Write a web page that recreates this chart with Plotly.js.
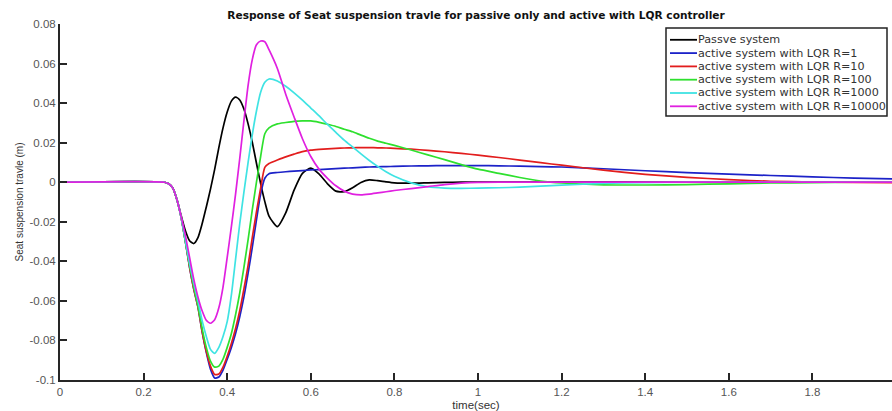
<!DOCTYPE html>
<html>
<head>
<meta charset="utf-8">
<script src="https://cdn.plot.ly/plotly-3.0.1.min.js"></script>
<style>html,body{margin:0;padding:0;background:#fff;}#chart{width:892px;height:411px;}</style>
</head>
<body>
<div id="chart"></div>
<script>
// ---- data ----
const time = [0, 0.25, 0.26, 0.27, 0.28, 0.29, 0.30, 0.31, 0.32, 0.33, 0.34, 0.35, 0.36, 0.37, 0.38, 0.39, 0.40,
  0.41, 0.42, 0.43, 0.44, 0.45, 0.46, 0.47, 0.48, 0.49, 0.50, 0.52, 0.54, 0.56, 0.58, 0.60, 0.62, 0.64,
  0.66, 0.68, 0.70, 0.72, 0.74, 0.76, 0.78, 0.80, 0.84, 0.88, 0.92, 0.96, 1.00, 1.05, 1.10, 1.15, 1.20,
  1.30, 1.40, 1.50, 1.60, 1.70, 1.80, 1.90, 2.00];

const passive = [0, 0, -0.0008, -0.003, -0.009, -0.017, -0.0245, -0.0296, -0.031, -0.028, -0.021, -0.0125, -0.0035, 0.0065, 0.0175, 0.0275, 0.0355,
  0.041, 0.043, 0.0416, 0.037, 0.0295, 0.0202, 0.0096, -0.0007, -0.0098, -0.0171, -0.0225, -0.0155, -0.004, 0.0045, 0.0071, 0.0041, -0.0008,
  -0.0045, -0.0048, -0.0028, -0.0001, 0.0012, 0.0008, 0.0002, -0.0003, -0.0005, -0.0003, -0.0001, 0, 0, 0, 0, 0, 0,
  0, 0, 0, 0, 0, 0, 0, 0];

const lqrR1 = [0, 0, -0.0008, -0.003, -0.009, -0.018, -0.030, -0.043, -0.054, -0.063, -0.0755, -0.086, -0.0945, -0.099, -0.0985, -0.095, -0.0895,
  -0.0835, -0.0765, -0.068, -0.058, -0.046, -0.033, -0.019, -0.006, 0.002, 0.0043, 0.0049, 0.0053, 0.0056, 0.0059, 0.0062, 0.0064, 0.0066,
  0.0069, 0.0071, 0.0073, 0.0075, 0.0077, 0.0078, 0.0079, 0.0080, 0.0082, 0.0083, 0.0084, 0.0084, 0.0084, 0.0083, 0.0081, 0.0079, 0.0077,
  0.0068, 0.0058, 0.0049, 0.0041, 0.0034, 0.0027, 0.0021, 0.0016];

const lqrR10 = [0, 0, -0.0008, -0.003, -0.009, -0.018, -0.030, -0.043, -0.054, -0.063, -0.0755, -0.0855, -0.093, -0.0972, -0.097, -0.0935, -0.088,
  -0.0815, -0.074, -0.065, -0.054, -0.042, -0.028, -0.015, -0.003, 0.0075, 0.0095, 0.0112, 0.0128, 0.0142, 0.0155, 0.0162, 0.0166, 0.0169,
  0.0171, 0.0173, 0.0174, 0.0175, 0.0175, 0.0174, 0.0173, 0.0171, 0.0167, 0.0161, 0.0154, 0.0146, 0.0137, 0.0125, 0.0112, 0.0099, 0.0086,
  0.0061, 0.0040, 0.0025, 0.0013, 0.0005, 0.0001, -0.0001, -0.0002];

const lqrR100 = [0, 0, -0.0008, -0.003, -0.009, -0.018, -0.030, -0.042, -0.053, -0.0625, -0.074, -0.0835, -0.0905, -0.0935, -0.093, -0.0895, -0.0835,
  -0.0765, -0.067, -0.056, -0.043, -0.029, -0.014, 0.000, 0.013, 0.0245, 0.0275, 0.0295, 0.0302, 0.0308, 0.031, 0.031, 0.0303, 0.0293,
  0.0282, 0.0268, 0.0255, 0.0238, 0.0222, 0.0208, 0.0197, 0.0186, 0.0163, 0.0138, 0.0114, 0.0089, 0.0066, 0.0045, 0.0024, 0.0006, -0.0004,
  -0.0013, -0.0014, -0.0012, -0.0008, -0.0004, -0.0002, 0, 0];

const lqrR1000 = [0, 0, -0.0008, -0.003, -0.009, -0.018, -0.0295, -0.041, -0.051, -0.060, -0.070, -0.078, -0.0845, -0.0865, -0.0835, -0.078, -0.0705,
  -0.057, -0.039, -0.021, -0.005, 0.010, 0.024, 0.036, 0.0455, 0.0505, 0.0522, 0.0512, 0.0485, 0.0452, 0.0415, 0.0375, 0.0335, 0.0292,
  0.0252, 0.0213, 0.0178, 0.0143, 0.0110, 0.0080, 0.0053, 0.0030, -0.0003, -0.0023, -0.003, -0.0031, -0.003, -0.0028, -0.0025, -0.002, -0.0015,
  -0.0006, -0.0002, 0, 0, 0, 0, 0, 0];

const lqrR10000 = [0, 0, -0.0008, -0.003, -0.009, -0.0175, -0.027, -0.038, -0.049, -0.058, -0.065, -0.0698, -0.0713, -0.0695, -0.0635, -0.053, -0.038,
  -0.0225, -0.006, 0.012, 0.031, 0.049, 0.062, 0.0695, 0.0714, 0.071, 0.067, 0.0575, 0.0445, 0.033, 0.022, 0.013, 0.0065, 0.002,
  -0.0018, -0.0045, -0.006, -0.0064, -0.006, -0.0054, -0.0048, -0.0042, -0.0032, -0.0022, -0.0012, -0.0005, -0.0001, 0, 0, 0, 0,
  0, 0, 0, 0, 0, 0, 0, 0];

const seriesNames = ["Passve system", "active system with LQR R=1", "active system with LQR R=10",
  "active system with LQR R=100", "active system with LQR R=1000", "active system with LQR R=10000"];
const seriesValues = [passive, lqrR1, lqrR10, lqrR100, lqrR1000, lqrR10000];

const xTickVals = [0, 0.2, 0.4, 0.6, 0.8, 1, 1.2, 1.4, 1.6, 1.8];
const xTickText = ["0", "0.2", "0.4", "0.6", "0.8", "1", "1.2", "1.4", "1.6", "1.8"];
const yTickVals = [-0.1, -0.08, -0.06, -0.04, -0.02, 0, 0.02, 0.04, 0.06, 0.08];
const yTickText = ["-0.1", "-0.08", "-0.06", "-0.04", "-0.02", "0", "0.02", "0.04", "0.06", "0.08"];

// ---- styling ----
const colors = ["#000000", "#1c22c8", "#e21d1d", "#2ee02e", "#3fe3e3", "#e020e0"];
const FONT = "Liberation Sans, Arial, Helvetica, sans-serif";
const WIDEFONT = "DejaVu Sans, Verdana, sans-serif";
const W = 892, H = 411;
const M = {l: 60, r: 0, t: 24, b: 31};
const plotW = W - M.l - M.r, plotH = H - M.t - M.b;
const px2x = p => (p - M.l) / plotW;
const px2y = p => (H - M.b - p) / plotH;

const traces = seriesValues.map((vals, i) => ({
  type: "scatter", mode: "lines", x: time, y: vals, name: seriesNames[i],
  line: {color: colors[i], width: 1.7, shape: "spline", smoothing: 0.6},
  showlegend: false, hoverinfo: "skip"
}));

// manual legend (MATLAB-style compact box)
const legBox = {x0: 666, x1: 887, y0: 28, y1: 116};
const shapes = [{type: "rect", xref: "paper", yref: "paper",
  x0: px2x(legBox.x0), x1: px2x(legBox.x1), y0: px2y(legBox.y1), y1: px2y(legBox.y0),
  line: {color: "#222", width: 1.5}, fillcolor: "#fff", layer: "above"}];
const annotations = [];
seriesNames.forEach((n, i) => {
  const cy = 39.8 + 13.3 * i;
  shapes.push({type: "line", xref: "paper", yref: "paper", x0: px2x(670), x1: px2x(697),
    y0: px2y(cy), y1: px2y(cy), line: {color: colors[i], width: 1.8}, layer: "above"});
  annotations.push({xref: "paper", yref: "paper", x: px2x(696), y: px2y(cy), text: n,
    showarrow: false, xanchor: "left", yanchor: "middle",
    font: {family: WIDEFONT, size: 11.2, color: "#333"}});
});

const axisCommon = {
  showgrid: false, zeroline: false, showline: true, linecolor: "#262626", linewidth: 2,
  ticks: "inside", ticklen: 7, tickwidth: 2, tickcolor: "#262626",
  tickfont: {family: FONT, size: 11.5, color: "#555"}, automargin: false, fixedrange: true
};

const layout = {
  width: W, height: H, margin: M, paper_bgcolor: "#fff", plot_bgcolor: "#fff",
  showlegend: false,
  title: {text: "Response of Seat suspension travle for passive only and active with LQR controller",
    x: 0.5, xref: "paper", xanchor: "center", y: 1 - 15 / H, yref: "container", yanchor: "middle",
    font: {family: WIDEFONT, size: 10.6, color: "#111", weight: "bold"}},
  xaxis: Object.assign({}, axisCommon, {range: [0, plotW / 418], tickvals: xTickVals, ticktext: xTickText,
    title: {text: "time(sec)", standoff: 6, font: {family: FONT, size: 11.5, color: "#333"}}}),
  yaxis: Object.assign({}, axisCommon, {range: [-0.1, 0.08], tickvals: yTickVals, ticktext: yTickText,
    title: {text: "Seat suspension travle (m)", standoff: 4, font: {family: FONT, size: 10, color: "#333"}}}),
  shapes: shapes, annotations: annotations
};

Plotly.newPlot("chart", traces, layout, {staticPlot: true, displayModeBar: false});
</script>
</body>
</html>
